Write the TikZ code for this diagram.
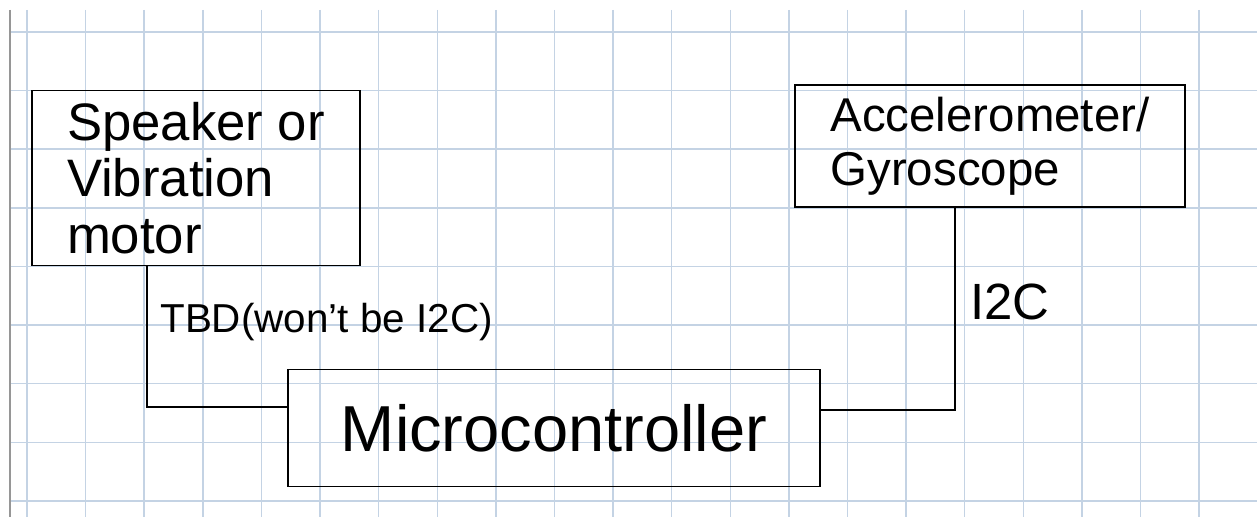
\documentclass[tikz,border=0pt]{standalone}
\usepackage{fontspec}
\setmainfont{Liberation Sans}
\usetikzlibrary{positioning,calc}
\definecolor{gridblue}{RGB}{196,211,228}
\definecolor{edgegray}{RGB}{150,150,150}

\begin{document}
\begin{tikzpicture}[x=0.02cm, y=-0.02cm,
    block/.style={draw, line width=1.1pt, inner sep=0pt, align=left},
    wire/.style={line width=1.1pt},
    lbl/.style={anchor=west, inner sep=0pt, font=\fontsize{23}{25}\selectfont}
]
\useasboundingbox (0,0) rectangle (1257,517);
\foreach \i in {0,...,20} \draw[gridblue, line width=0.8pt] (27+58.6*\i,10) -- (27+58.6*\i,517);
\foreach \j in {0,...,8} \draw[gridblue, line width=0.8pt] (10,32+58.6*\j) -- (1257,32+58.6*\j);
\draw[edgegray, line width=0.9pt] (10,10) -- (10,517);

\node[block, minimum width=6.56cm, minimum height=3.5cm, font=\fontsize{30}{32}\selectfont] (speaker) at (196,178) {Speaker or\\Vibration\\motor};
\node[block, minimum width=7.8cm, minimum height=2.44cm, font=\fontsize{27}{31}\selectfont] (accel) at (990,146) {Accelerometer/\\Gyroscope};
\node[block, minimum width=10.64cm, minimum height=2.34cm, font=\fontsize{37}{40}\selectfont] (mcu) at (554,428) {Microcontroller};

\draw[wire] ([xshift=2.32cm]speaker.south west) |- ([yshift=0.42cm]mcu.west);
\draw[wire] ([yshift=0.36cm]mcu.east) -| ([xshift=-0.7cm]accel.south);

\node[lbl] (tbd) at (160,322) {TBD(won't be I2C)};
\node[lbl, font=\fontsize{29}{31}\selectfont] (i2c) at (970,302) {I2C};
\end{tikzpicture}
\end{document}
